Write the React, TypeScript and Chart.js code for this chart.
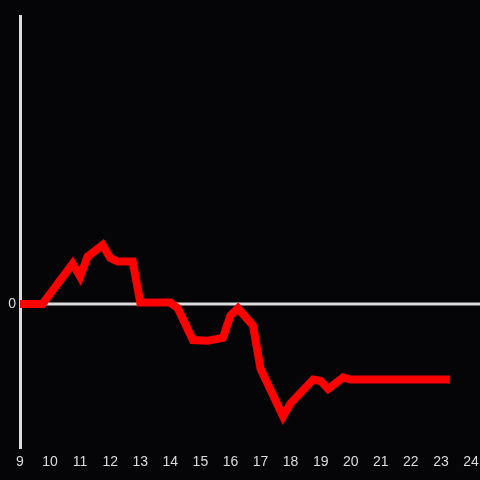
import React, { useEffect, useRef } from "react";
import { Chart, registerables } from "chart.js";

Chart.register(...registerables);

const hours = [9, 9.75, 10.75, 11.0, 11.25, 11.75, 12.0, 12.25, 12.75, 13.0, 14.0, 14.25, 14.75, 15.25, 15.75, 16.0, 16.25, 16.75, 17.0, 17.75, 18.0, 18.75, 19.0, 19.25, 19.75, 20.0, 23.3];
const values = [0, 0, 0.28, 0.19, 0.33, 0.41, 0.32, 0.295, 0.295, 0.01, 0.01, -0.03, -0.25, -0.255, -0.235, -0.08, -0.03, -0.15, -0.45, -0.78, -0.69, -0.525, -0.535, -0.59, -0.51, -0.525, -0.525];
const xTicks = [9, 10, 11, 12, 13, 14, 15, 16, 17, 18, 19, 20, 21, 22, 23, 24];
const yTicks = [0];

const AXIS = "#dcdcdc";
const BG = "#050507";

const zeroLine = {
  id: "zeroLine",
  beforeDatasetsDraw(chart: any) {
    const { ctx, chartArea, scales } = chart;
    const y = scales.y.getPixelForValue(0);
    ctx.save();
    ctx.strokeStyle = AXIS;
    ctx.lineWidth = 3;
    ctx.beginPath();
    ctx.moveTo(chartArea.left, y);
    ctx.lineTo(chart.width, y);
    ctx.stroke();
    ctx.restore();
  },
};

const bgPlugin = {
  id: "bg",
  beforeDraw(chart: any) {
    const { ctx } = chart;
    ctx.save();
    ctx.fillStyle = BG;
    ctx.fillRect(0, 0, chart.width, chart.height);
    ctx.restore();
  },
};

export default function App() {
  const ref = useRef<HTMLCanvasElement>(null);
  useEffect(() => {
    document.body.style.margin = "0";
    document.body.style.background = BG;
    const chart = new Chart(ref.current!, {
      type: "line",
      data: {
        datasets: [
          {
            data: hours.map((h, i) => ({ x: h, y: values[i] })),
            borderColor: "#ff0000",
            borderWidth: 8,
            pointRadius: 0,
            tension: 0,
            fill: false,
            borderCapStyle: "butt",
            borderJoinStyle: "miter",
          },
        ],
      },
      options: {
        animation: false,
        responsive: false,
        maintainAspectRatio: false,
        layout: { padding: { top: 16, right: 9, left: 0, bottom: 0 } },
        plugins: { legend: { display: false }, tooltip: { enabled: false } },
        scales: {
          x: {
            type: "linear",
            min: 9,
            max: 24,
            afterBuildTicks: (s: any) => {
              s.ticks = xTicks.map((v) => ({ value: v }));
            },
            afterFit: (s: any) => {
              s.height = 32;
              s.paddingLeft = 0;
              s.paddingRight = 0;
            },
            grid: { display: false, drawTicks: false },
            border: { display: false },
            ticks: {
              color: AXIS,
              font: { size: 14, family: "Liberation Sans, Arial, sans-serif" },
              padding: 6,
              maxRotation: 0,
              autoSkip: false,
            },
          },
          y: {
            type: "linear",
            min: -1,
            max: 2,
            afterBuildTicks: (s: any) => {
              s.ticks = yTicks.map((v) => ({ value: v }));
            },
            afterFit: (s: any) => {
              s.width = 20;
              s.paddingTop = 0;
              s.paddingBottom = 0;
            },
            grid: { display: false, drawTicks: false },
            border: { display: true, color: AXIS, width: 3 },
            ticks: {
              color: AXIS,
              font: { size: 14, family: "Liberation Sans, Arial, sans-serif" },
              padding: 4,
            },
          },
        },
      },
      plugins: [bgPlugin, zeroLine],
    });
    return () => chart.destroy();
  }, []);
  return (
    <div style={{ width: 480, height: 480, background: BG }}>
      <canvas ref={ref} width={480} height={480} style={{ display: "block" }} />
    </div>
  );
}
